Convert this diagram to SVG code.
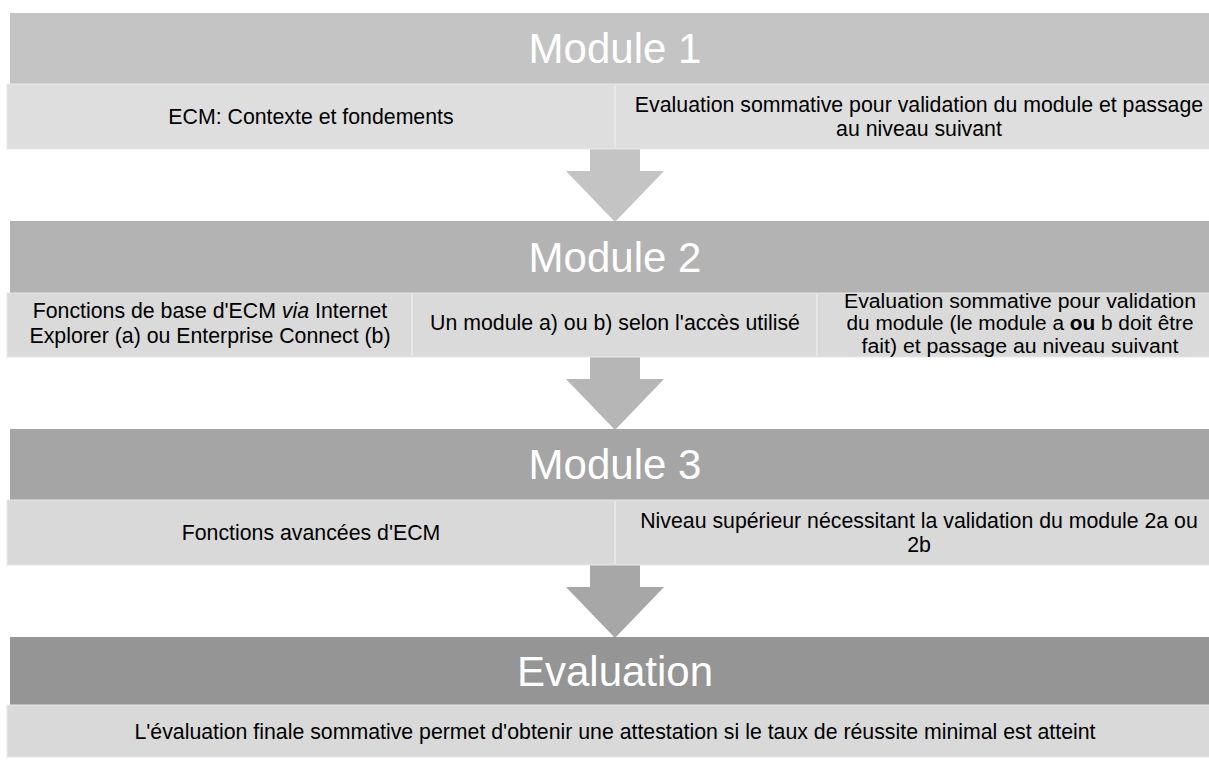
<svg xmlns="http://www.w3.org/2000/svg" width="1209" height="760" viewBox="0 0 1209 760">
  <style>
    text { font-family: "Liberation Sans", Arial, sans-serif; }
    .hd { font-size: 42px; fill: #ffffff; text-anchor: middle; }
    .tx { font-size: 21.3px; fill: #000000; text-anchor: middle; }
    .sm { font-size: 19.4px; }
    .sub { stroke: #e8e8e8; stroke-width: 1; }
    .div { stroke: #ebebeb; stroke-width: 1.5; }
  </style>
  <rect width="1209" height="760" fill="#ffffff"/>

  <g id="connectors">
    <polygon points="590,149 640,149 640,171 664,171 615,222 566,171 590,171" fill="#c4c4c4"/>
    <polygon points="590,357 640,357 640,379 664,379 615,430 566,379 590,379" fill="#b6b6b6"/>
    <polygon points="590,565 640,565 640,587 664,587 615,638 566,587 590,587" fill="#a7a7a7"/>
  </g>

  <g id="module1">
    <rect x="10" y="13" width="1210" height="71" fill="#c4c4c4"/>
    <text class="hd" x="615" y="63">Module 1</text>
    <rect class="sub" x="7" y="84" width="1216" height="65" fill="#dedede"/>
    <line class="div" x1="615" y1="85" x2="615" y2="148"/>
    <text class="tx" x="311" y="124">ECM: Contexte et fondements</text>
    <text class="tx" x="919" y="111.5">Evaluation sommative pour validation du module et passage</text>
    <text class="tx" x="919" y="136">au niveau suivant</text>
  </g>

  <g id="module2">
    <rect x="10" y="221" width="1210" height="72" fill="#b3b3b3"/>
    <text class="hd" x="615" y="272">Module 2</text>
    <rect class="sub" x="7" y="293" width="1216" height="64" fill="#dadada"/>
    <line class="div" x1="412" y1="294" x2="412" y2="356"/>
    <line class="div" x1="817" y1="294" x2="817" y2="356"/>
    <text class="tx" x="210" y="318">Fonctions de base d'ECM <tspan font-style="italic">via</tspan> Internet</text>
    <text class="tx" x="210" y="342.5">Explorer (a) ou Enterprise Connect (b)</text>
    <text class="tx" x="615" y="330">Un module a) ou b) selon l'accès utilisé</text>
    <text class="tx sm" x="1020" y="307.5" textLength="352" lengthAdjust="spacingAndGlyphs">Evaluation sommative pour validation</text>
    <text class="tx sm" x="1020" y="330" textLength="347" lengthAdjust="spacingAndGlyphs">du module (le module a <tspan font-weight="bold">ou</tspan> b doit être</text>
    <text class="tx sm" x="1020" y="352.5" textLength="317" lengthAdjust="spacingAndGlyphs">fait) et passage au niveau suivant</text>
  </g>

  <g id="module3">
    <rect x="10" y="429" width="1210" height="71" fill="#a5a5a5"/>
    <text class="hd" x="615" y="479">Module 3</text>
    <rect class="sub" x="7" y="500" width="1216" height="65" fill="#d9d9d9"/>
    <line class="div" x1="615" y1="501" x2="615" y2="564"/>
    <text class="tx" x="311" y="540">Fonctions avancées d'ECM</text>
    <text class="tx" x="919" y="527.5">Niveau supérieur nécessitant la validation du module 2a ou</text>
    <text class="tx" x="919" y="552">2b</text>
  </g>

  <g id="evaluation">
    <rect x="10" y="637" width="1210" height="68" fill="#959595"/>
    <text class="hd" x="615" y="686">Evaluation</text>
    <rect class="sub" x="7" y="705" width="1216" height="52" fill="#d9d9d9"/>
    <text class="tx" x="615" y="739">L'évaluation finale sommative permet d'obtenir une attestation si le taux de réussite minimal est atteint</text>
  </g>
</svg>
